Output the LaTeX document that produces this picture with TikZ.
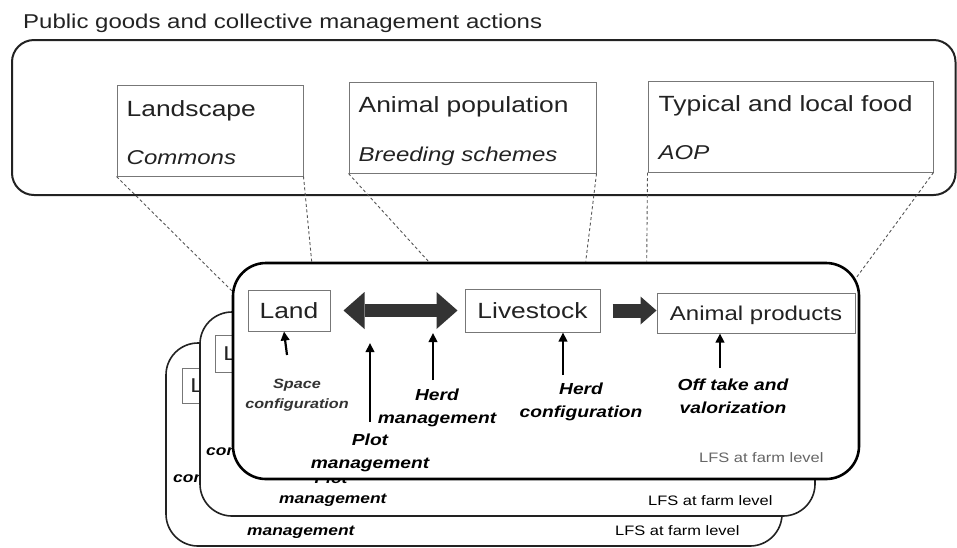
\documentclass[tikz,border=0pt]{standalone}
\usepackage{fontspec}
\setmainfont{Liberation Sans}[FakeStretch=1.2]
\usetikzlibrary{arrows.meta,calc}

\definecolor{inkgray}{HTML}{222222}
\definecolor{boxgray}{HTML}{777777}
\definecolor{arrowgray}{HTML}{333333}
\definecolor{dashgray}{HTML}{555555}
\definecolor{lfsgray}{HTML}{666666}

\tikzset{
  titletext/.style={font=\fontsize{20}{24}\selectfont, text=inkgray, anchor=base west, inner sep=0pt},
  boxtext/.style={font=\fontsize{22}{26}\selectfont, text=inkgray, anchor=base west, inner sep=0pt},
  subtext/.style={font=\itshape\fontsize{20}{24}\selectfont, text=inkgray, anchor=base west, inner sep=0pt},
  goodbox/.style={draw=boxgray, line width=1pt, minimum width=#1, minimum height=91, inner sep=0pt},
  landbox/.style={draw=boxgray, line width=1pt, fill=white, inner sep=0pt, text depth=0pt,
    font=\fontsize{22}{26}\selectfont, text=inkgray},
  backcard/.style={draw=inkgray, line width=1.6pt, fill=white, rounded corners=32, inner sep=0pt},
  frontcard/.style={draw=black, line width=2.6pt, fill=white, rounded corners=33, inner sep=0pt},
  linkline/.style={draw=dashgray, line width=0.9pt, dash pattern=on 3pt off 2.5pt},
  fatarrow/.style={draw=arrowgray},
  uparrow/.style={draw=black, line width=2.2pt, -{Triangle[length=9pt,width=8.5pt]}},
  % multi-line labels: base anchor sits on the last line
  mgmtlbl/.style={font=\bfseries\itshape\fontsize{16}{23}\selectfont, align=center, anchor=base, inner sep=0pt},
  smalllbl/.style={font=\bfseries\itshape\fontsize{13.5}{20}\selectfont, text=arrowgray, align=center, anchor=base, inner sep=0pt},
  backlbl/.style={font=\bfseries\itshape\fontsize{14.5}{20}\selectfont, anchor=base west, inner sep=0pt},
  lfstext/.style={font=\fontsize{13.7}{16}\selectfont, anchor=base west, inner sep=0pt}
}

\begin{document}
\begin{tikzpicture}[x=1pt, y=-1pt]
\useasboundingbox (0,0) rectangle (957,547);

% Public goods frame
\node[titletext] (title) at (23,28) {Public goods and collective management actions};
\draw[line width=2pt, draw=inkgray, rounded corners=22] (12,40) rectangle (955.5,195);

% Public goods boxes
\node[goodbox=186] (landscape) at (210,130.5) {};
\node[boxtext] (landscapetxt) at ($(landscape.north west)+(10,32)$) {Landscape};
\node[subtext] (commons) at ($(landscape.north west)+(10,80)$) {Commons};

\node[goodbox=247] (population) at (472.5,127.5) {};
\node[boxtext] (populationtxt) at ($(population.north west)+(10,31)$) {Animal population};
\node[subtext] (breeding) at ($(population.north west)+(10,80)$) {Breeding schemes};

\node[goodbox=285] (food) at (790.5,126.5) {};
\node[boxtext] (foodtxt) at ($(food.north west)+(11,31)$) {Typical and local food};
\node[subtext] (aop) at ($(food.north west)+(11,79)$) {AOP};

% Back farm cards
\node[backcard, minimum width=616, minimum height=203] (card3) at (474,444.5) {};
\node[landbox, minimum width=70, minimum height=35, font=\fontsize{20}{24}\selectfont] (land3) at (217,385.5) {Land};
\node[backlbl] (cfg3) at (173,482) {configuration};
\node[backlbl] (mgmt3) at (247,535) {management};
\node[lfstext] (lfs3) at (615,535) {LFS at farm level};

\node[backcard, minimum width=615, minimum height=204] (card2) at (507.5,414) {};
\node[landbox, minimum width=70, minimum height=37, font=\fontsize{20}{24}\selectfont] (land2) at (250,353.5) {Land};
\node[backlbl] (cfg2) at (206,455) {configuration};
\node[backlbl, anchor=base] (plot2) at (331,483) {Plot};
\node[backlbl] (mgmt2) at (279,503) {management};
\node[lfstext] (lfs2) at (648,505) {LFS at farm level};

% Front farm card
\node[frontcard, minimum width=626, minimum height=216] (farm) at (546,371) {};

% Links from public goods to the farm
\coordinate (lsL) at ($(farm.north west)+(0,29)$);
\coordinate (lsR) at ($(farm.north west)+(80,0)$);
\coordinate (apL) at ($(farm.north west)+(197,0)$);
\coordinate (apR) at ($(farm.north west)+(354,0)$);
\coordinate (tfL) at ($(farm.north west)+(415,0)$);
\coordinate (tfR) at ($(farm.north east)+(-4,16)$);
\draw[linkline] (landscape.south west) -- (lsL);
\draw[linkline] (landscape.south east) -- (lsR);
\draw[linkline] (population.south west) -- (apL);
\draw[linkline] (population.south east) -- (apR);
\draw[linkline] (food.south west) -- (tfL);
\draw[linkline] (food.south east) -- (tfR);

% Farm components
\node[landbox, minimum width=82, minimum height=41] (land) at (289,310.5) {Land};
\node[landbox, minimum width=135, minimum height=43] (livestock) at (532.5,310.5) {Livestock};
\node[landbox, minimum width=198, minimum height=40, font=\fontsize{20}{24}\selectfont] (products) at (756,313) {Animal products};

% Flows
\draw[fatarrow, line width=13pt,
  {Triangle[length=21pt,width=37pt,line width=0pt]}-{Triangle[length=21pt,width=37pt,line width=0pt]}]
  ([xshift=13pt]land.east) -- ([xshift=-7pt]livestock.west);
\draw[fatarrow, line width=14pt, -{Triangle[length=16pt,width=28pt,line width=0pt]}]
  ([xshift=12pt]livestock.east) -- (livestock.east -| products.west);

% Management actions
\coordinate (spaceup) at (287,355);
\coordinate (plotup) at (370,422);
\coordinate (plottip) at (370,343);
\coordinate (herdup) at (433,380);
\coordinate (herdtip) at (433,333);
\coordinate (cfgup) at (563,375);
\coordinate (offup) at (720,368);
\draw[uparrow] (spaceup) -- ([xshift=-5pt]land.south);
\draw[uparrow] (plotup) -- (plottip);
\draw[uparrow] (herdup) -- (herdtip);
\draw[uparrow] (cfgup) -- (cfgup |- livestock.south);
\draw[uparrow] (offup) -- (offup |- products.south);

\node[smalllbl] (spacecfg) at (297,408) {Space\\configuration};
\node[mgmtlbl] (herdmgmt) at (437,423) {Herd\\management};
\node[mgmtlbl] (plotmgmt) at (370,468) {Plot\\management};
\node[mgmtlbl] (herdcfg) at (581,417) {Herd\\configuration};
\node[mgmtlbl] (offtake) at (733,413) {Off take and\\valorization};
\node[lfstext, text=lfsgray] (lfs1) at (699,462) {LFS at farm level};
\end{tikzpicture}
\end{document}
